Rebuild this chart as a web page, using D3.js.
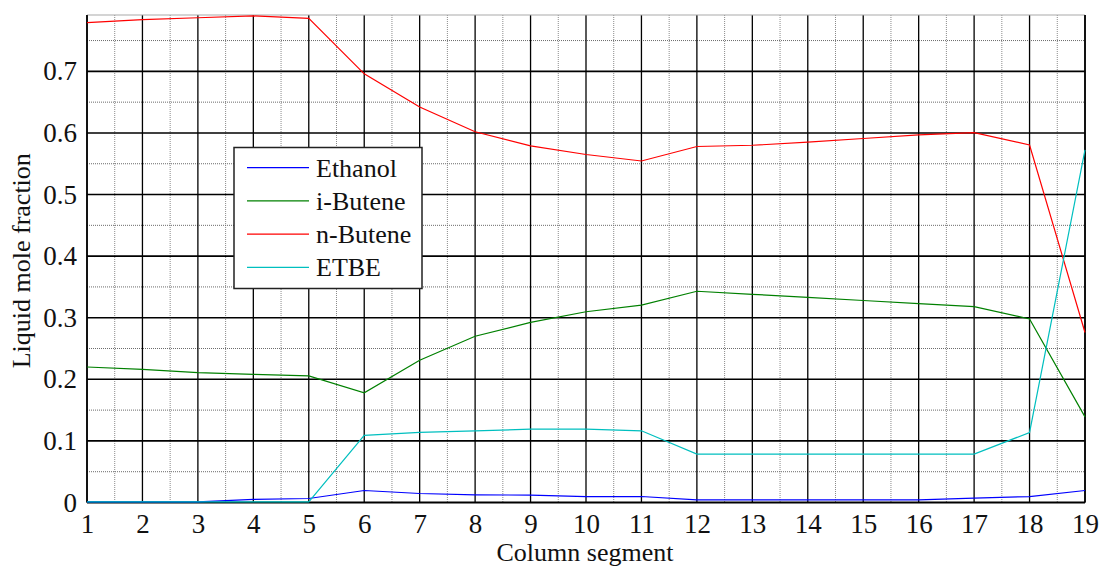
<!DOCTYPE html>
<html>
<head>
<meta charset="utf-8">
<script src="https://cdn.jsdelivr.net/npm/d3@7"></script>
<style>
  html, body { margin: 0; padding: 0; background: #fff; }
  svg { display: block; }
  svg text { font-family: 'Liberation Serif', 'Times New Roman', serif !important; fill: #111; }
</style>
</head>
<body>
<svg id="chart" width="1100" height="567"></svg>
<script>
const segments = [1,2,3,4,5,6,7,8,9,10,11,12,13,14,15,16,17,18,19];
const ethanol = [0.001,0.001,0.001,0.005,0.0065,0.0195,0.0146,0.0124,0.012,0.0097,0.0097,0.0043,0.0043,0.0043,0.0043,0.0043,0.007,0.0097,0.0195];
const iButene = [0.220,0.216,0.211,0.208,0.2057,0.178,0.231,0.270,0.2924,0.3097,0.3206,0.343,0.338,0.333,0.328,0.323,0.318,0.298,0.139];
const nButene = [0.779,0.784,0.787,0.790,0.786,0.696,0.642,0.602,0.579,0.565,0.5545,0.578,0.580,0.585,0.591,0.597,0.6005,0.5805,0.276];
const etbe = [0.001,0.001,0.001,0.001,0.001,0.109,0.1137,0.1164,0.119,0.119,0.1164,0.0785,0.0785,0.0785,0.0785,0.0785,0.0785,0.1137,0.5724];
const seriesNames = ["Ethanol","i-Butene","n-Butene","ETBE"];
const seriesColors = ["#0000ff","#008000","#ff0000","#00bfbf"];
const yTicks = [0,0.1,0.2,0.3,0.4,0.5,0.6,0.7];
const yMax = 0.7915;

const FONT = "'Liberation Serif', 'Times New Roman', serif";
const svg = d3.select("#chart");
const m = {left: 87, top: 15, right: 1085, bottom: 502.5};
const x = d3.scaleLinear().domain([1,19]).range([m.left, m.right]);
const y = d3.scaleLinear().domain([0, yMax]).range([m.bottom, m.top]);

const g = svg.append("g");

// minor grid
const minorX = d3.range(1.5, 19, 1);
const minorY = d3.range(0.05, yMax, 0.1);
g.selectAll(".mx").data(minorX).enter().append("line")
  .attr("x1", d => x(d)).attr("x2", d => x(d)).attr("y1", m.top).attr("y2", m.bottom)
  .attr("stroke", "#8a8a8a").attr("stroke-width", 1).attr("stroke-dasharray", "1,1");
g.selectAll(".my").data(minorY).enter().append("line")
  .attr("x1", m.left).attr("x2", m.right).attr("y1", d => y(d)).attr("y2", d => y(d))
  .attr("stroke", "#6a6a6a").attr("stroke-width", 1).attr("stroke-dasharray", "1,1");

// major grid
g.selectAll(".Mx").data(segments).enter().append("line")
  .attr("x1", d => x(d)).attr("x2", d => x(d)).attr("y1", m.top).attr("y2", m.bottom)
  .attr("stroke", "#000").attr("stroke-width", 1.3);
g.selectAll(".My").data(yTicks.slice(1)).enter().append("line")
  .attr("x1", m.left).attr("x2", m.right).attr("y1", d => y(d)).attr("y2", d => y(d))
  .attr("stroke", "#000").attr("stroke-width", 1.6);

// frame
g.append("line").attr("x1", m.left).attr("x2", m.right).attr("y1", m.top).attr("y2", m.top)
  .attr("stroke", "#aaa").attr("stroke-width", 1.2);
g.append("line").attr("x1", m.right).attr("x2", m.right).attr("y1", m.top).attr("y2", m.bottom)
  .attr("stroke", "#000").attr("stroke-width", 1.6);
g.append("line").attr("x1", m.left).attr("x2", m.left).attr("y1", m.top).attr("y2", m.bottom)
  .attr("stroke", "#000").attr("stroke-width", 1.6);
g.append("line").attr("x1", m.left).attr("x2", m.right).attr("y1", m.bottom).attr("y2", m.bottom)
  .attr("stroke", "#000").attr("stroke-width", 2.2);

// axes labels via d3 axes
const xAxis = d3.axisBottom(x).tickValues(segments).tickFormat(d3.format("d")).tickSize(0).tickPadding(11);
const xa = svg.append("g").attr("transform", `translate(0,${m.bottom})`).call(xAxis)
  .attr("font-family", FONT).attr("font-size", 27);
xa.select(".domain").remove();
xa.selectAll("text").attr("font-family", FONT).attr("font-size", 27).attr("fill", "#111");

const yAxis = d3.axisLeft(y).tickValues(yTicks).tickFormat(d => d === 0 ? "0" : d3.format(".1f")(d)).tickSize(0).tickPadding(10);
const ya = svg.append("g").attr("transform", `translate(${m.left},0)`).call(yAxis)
  .attr("font-family", FONT).attr("font-size", 27);
ya.select(".domain").remove();
ya.selectAll("text").attr("font-family", FONT).attr("font-size", 27).attr("fill", "#111");

svg.append("text").attr("x", (m.left + m.right) / 2 - 1).attr("y", 561)
  .attr("text-anchor", "middle").attr("font-family", FONT).attr("font-size", 26).text("Column segment");
svg.append("text").attr("transform", `translate(30,${(m.top + m.bottom) / 2 + 2}) rotate(-90)`)
  .attr("text-anchor", "middle").attr("font-family", FONT).attr("font-size", 26).text("Liquid mole fraction");

// series
const allSeries = [ethanol, iButene, nButene, etbe];
const line = d3.line().x((d, i) => x(segments[i])).y(d => y(d));
allSeries.forEach((s, k) => {
  g.append("path").datum(s).attr("d", line).attr("fill", "none")
    .attr("stroke", seriesColors[k]).attr("stroke-width", 1.2);
});

// legend
const lg = svg.append("g");
lg.append("rect").attr("x", 234).attr("y", 147.5).attr("width", 188).attr("height", 141)
  .attr("fill", "#fff").attr("stroke", "#222").attr("stroke-width", 1.5);
seriesNames.forEach((n, k) => {
  const yy = 167.7 + k * 33.2;
  lg.append("line").attr("x1", 247).attr("x2", 309).attr("y1", yy).attr("y2", yy)
    .attr("stroke", seriesColors[k]).attr("stroke-width", 1.2);
  lg.append("text").attr("x", 316).attr("y", yy + 9).attr("font-family", FONT).attr("font-size", 26).text(n);
});
</script>
</body>
</html>
